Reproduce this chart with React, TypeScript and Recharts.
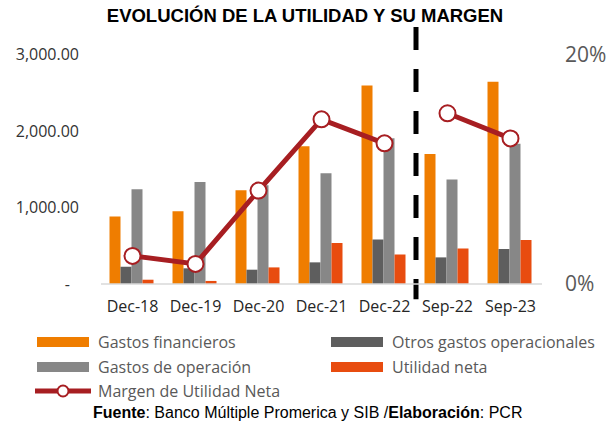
import React from 'react';
import { ComposedChart, Bar, Line, XAxis, YAxis, ReferenceLine } from 'recharts';

const categories = ['Dec-18', 'Dec-19', 'Dec-20', 'Dec-21', 'Dec-22', 'Sep-22', 'Sep-23'];
const gastosFinancieros = [883, 952, 1225, 1800, 2595, 1699, 2643];
const otrosGastosOperacionales = [226, 205, 187, 283, 583, 348, 456];
const gastosOperacion = [1239, 1334, 1290, 1447, 1904, 1365, 1834];
const utilidadNeta = [56, 40, 217, 535, 387, 465, 574];
const margenUtilidadNeta = [2.45, 1.75, 8.14, 14.35, 12.26, 14.88, 12.69];
const breakIndex = 5; // the margin line is interrupted before this category
const leftTicks = [0, 1000, 2000, 3000];
const rightTicks = [0, 20];

const title = 'EVOLUCIÓN DE LA UTILIDAD Y SU MARGEN';
const legendNames = {
  gf: 'Gastos financieros',
  og: 'Otros gastos operacionales',
  go: 'Gastos de operación',
  un: 'Utilidad neta',
  mg: 'Margen de Utilidad Neta',
};

const C_ORANGE = '#EF7D00';
const C_DARK = '#5E5E5E';
const C_GRAY = '#878787';
const C_RED = '#E84C0F';
const C_LINE = '#A71E22';

const data = categories.map((c, i) => ({
  cat: c,
  gf: gastosFinancieros[i],
  og: otrosGastosOperacionales[i],
  go: gastosOperacion[i],
  un: utilidadNeta[i],
  m1: i < breakIndex ? margenUtilidadNeta[i] : null,
  m2: i >= breakIndex ? margenUtilidadNeta[i] : null,
}));

const TICK_FONT = "'Open Sans', sans-serif";
const ARIAL = "'Liberation Sans', Arial, sans-serif";

const LeftTick = (props: any) => {
  const { x, y, payload } = props;
  const v = payload.value as number;
  if (v === 0) {
    return (
      <text x={x - 9} y={y} dy="0.35em" textAnchor="end" fill="#333" fontSize={16} fontFamily={TICK_FONT}>
        -
      </text>
    );
  }
  const s = v.toLocaleString('en-US', { minimumFractionDigits: 2, maximumFractionDigits: 2 });
  return (
    <text x={x} y={y} dy="0.35em" textAnchor="end" fill="#333" fontSize={16} fontFamily={TICK_FONT}>
      {s}
    </text>
  );
};

const RightTick = (props: any) => {
  const { x, y, payload } = props;
  const v = payload.value as number;
  return (
    <text x={x} y={y} dy="0.35em" textAnchor="start" fill="#595959" fontSize={21} fontFamily={TICK_FONT}>
      {v + '%'}
    </text>
  );
};

const LegendItem = ({ x, y, color, label }: { x: number; y: number; color: string; label: string }) => (
  <g>
    <rect x={x} y={y - 5} width={52} height={10} fill={color} />
    <text x={x + 61} y={y} dy="0.35em" fill="#595959" fontSize={16} fontFamily={TICK_FONT}>
      {label}
    </text>
  </g>
);

export default function App() {
  return (
    <div style={{ position: 'absolute', left: 0, top: 0, background: '#fff' }}>
      <ComposedChart
        width={608}
        height={426}
        data={data}
        margin={{ top: 27, right: 0, bottom: 112, left: 0 }}
        barCategoryGap="13.5%"
        barGap={0}
      >
        <XAxis
          dataKey="cat"
          axisLine={{ stroke: '#D9D9D9', strokeWidth: 1.5 }}
          tickLine={false}
          height={30}
          tickMargin={11}
          tick={{ fill: '#262626', fontSize: 16, fontFamily: TICK_FONT }}
          interval={0}
        />
        <YAxis
          yAxisId="left"
          orientation="left"
          width={101}
          domain={[0, 3360]}
          ticks={leftTicks}
          axisLine={false}
          tickLine={false}
          tickMargin={16}
          tick={<LeftTick />}
          allowDataOverflow
        />
        <YAxis
          yAxisId="right"
          orientation="right"
          width={66}
          domain={[0, 22.4]}
          ticks={rightTicks}
          axisLine={false}
          tickLine={false}
          tickMargin={17}
          tick={<RightTick />}
          allowDataOverflow
        />
        <Bar yAxisId="left" dataKey="gf" fill={C_ORANGE} isAnimationActive={false} />
        <Bar yAxisId="left" dataKey="og" fill={C_DARK} isAnimationActive={false} />
        <Bar yAxisId="left" dataKey="go" fill={C_GRAY} isAnimationActive={false} />
        <Bar yAxisId="left" dataKey="un" fill={C_RED} isAnimationActive={false} />
        <ReferenceLine
          yAxisId="left"
          segment={[{ x: categories[breakIndex], y: 3360 }, { x: categories[breakIndex], y: -200 }]}
          position="start"
          stroke="#000"
          strokeWidth={5}
          strokeDasharray="23 19"
          ifOverflow="visible"
        />
        <Line
          yAxisId="right"
          dataKey="m1"
          stroke={C_LINE}
          strokeWidth={5}
          dot={{ r: 8, fill: '#fff', stroke: C_LINE, strokeWidth: 2 }}
          connectNulls={false}
          isAnimationActive={false}
        />
        <Line
          yAxisId="right"
          dataKey="m2"
          stroke={C_LINE}
          strokeWidth={5}
          dot={{ r: 8, fill: '#fff', stroke: C_LINE, strokeWidth: 2 }}
          connectNulls={false}
          isAnimationActive={false}
        />
        <text x={305} y={22} textAnchor="middle" fontFamily={ARIAL} fontWeight="bold" fontSize={18.5} fill="#000">
          {title}
        </text>
        <LegendItem x={37} y={342} color={C_ORANGE} label={legendNames.gf} />
        <LegendItem x={331} y={342} color={C_DARK} label={legendNames.og} />
        <LegendItem x={37} y={367} color={C_GRAY} label={legendNames.go} />
        <LegendItem x={331} y={367} color={C_RED} label={legendNames.un} />
        <g>
          <line x1={35} y1={391} x2={91} y2={391} stroke={C_LINE} strokeWidth={5} />
          <circle cx={63} cy={391} r={5.5} fill="#fff" stroke={C_LINE} strokeWidth={2} />
          <text x={98} y={391} dy="0.35em" fill="#595959" fontSize={16} fontFamily={TICK_FONT}>
            {legendNames.mg}
          </text>
        </g>
        <text x={93} y={412} dy="0.35em" fontFamily={ARIAL} fontSize={16} fill="#000">
          <tspan fontWeight="bold">Fuente</tspan>
          <tspan>: Banco Múltiple Promerica y SIB /</tspan>
          <tspan fontWeight="bold">Elaboración</tspan>
          <tspan>: PCR</tspan>
        </text>
      </ComposedChart>
    </div>
  );
}
